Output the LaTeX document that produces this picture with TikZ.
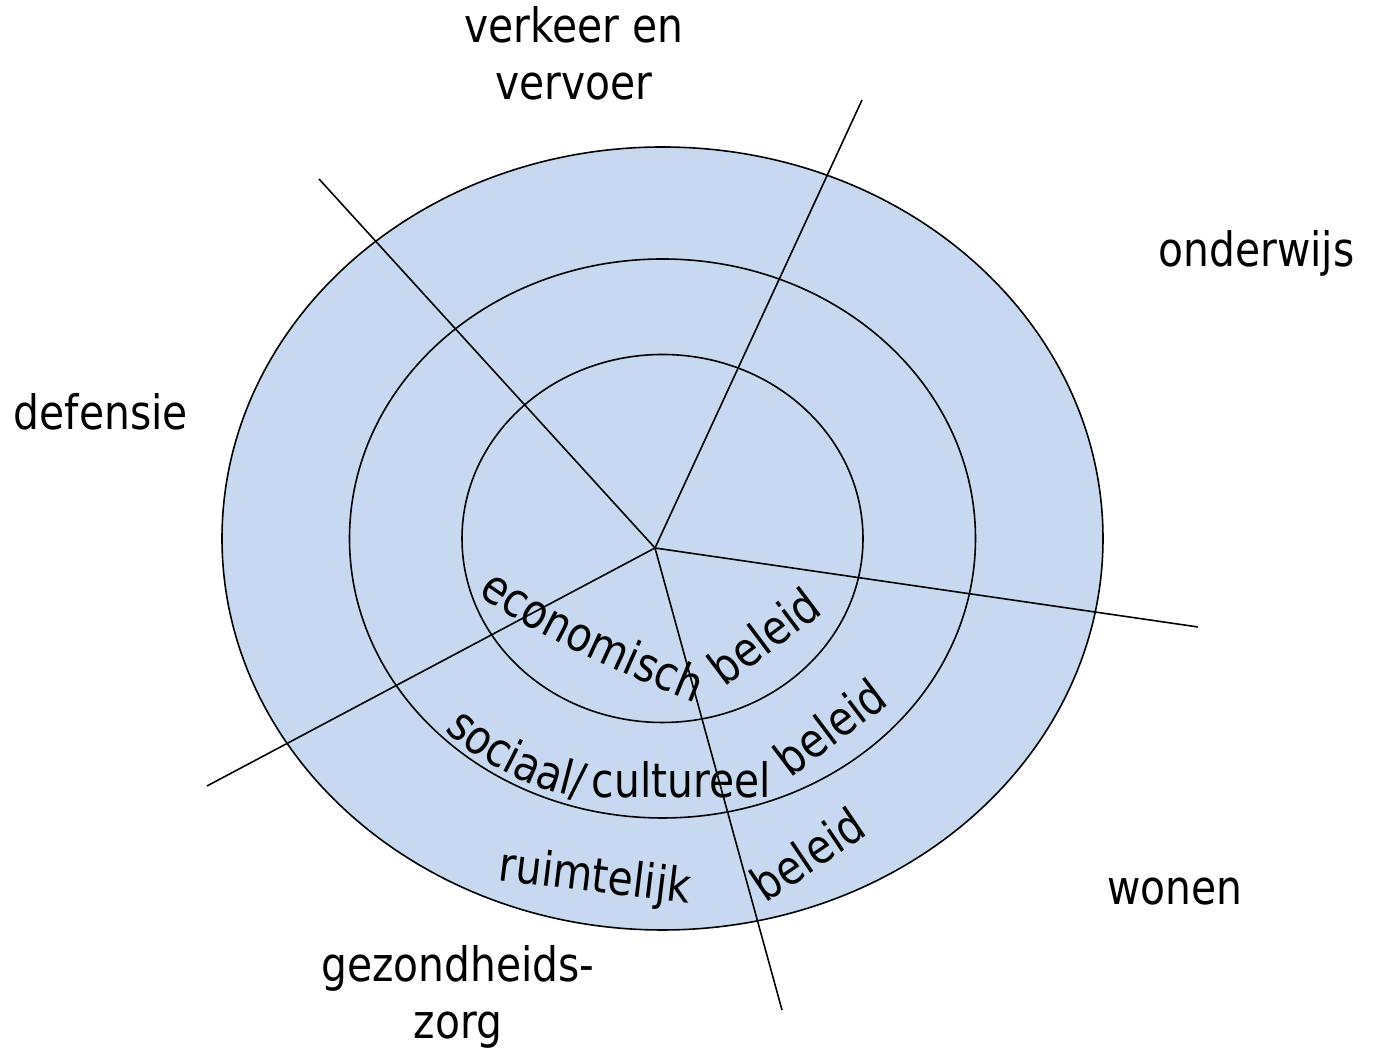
\documentclass[tikz,border=0pt]{standalone}
\usepackage{fontspec}
\setmainfont{DejaVu Sans}[FakeStretch=0.86]
\usetikzlibrary{decorations.text}
\definecolor{ringblue}{RGB}{198,217,241}
\newcommand{\ringfont}{\fontsize{27}{32.4}\selectfont}
\tikzset{lbl/.style={font=\ringfont,inner sep=0pt,align=center}}
\begin{document}
\begin{tikzpicture}[x=0.02cm,y=0.02cm,line width=0.9pt]
        \useasboundingbox(0,0)rectangle(1377,1057);
        \coordinate(c)at(662.5,518.5);
        \filldraw[fill=ringblue](c)ellipse[x radius=440.5,y radius=391.5];
        \draw(c)ellipse[x radius=313,y radius=279.5];
        \draw(c)ellipse[x radius=200.5,y radius=184];
        \coordinate(0)at(655,509);
        \coordinate(1)at(319,878);
        \coordinate(2)at(862,957);
        \coordinate(3)at(1198,430);
        \coordinate(4)at(782,47);
        \coordinate(5)at(207,271);
        \draw(0)--(1);
        \draw(0)--(2);
        \draw(0)--(3);
        \draw(0)--(4);
        \draw(0)--(5);
        \node[lbl](6)at(574,1003.5){verkeer en\\vervoer};
        \node[lbl,anchor=base](7)at(1256.5,790){onderwijs};
        \node[lbl,anchor=base](8)at(101,627){defensie};
        \node[lbl,anchor=base](9)at(1175,152){wonen};
        \node[lbl](10)at(458,60){gezondheids-\\zorg};
        \path[decorate,decoration={text along path,text={|\ringfont|economisch}}](478,463)..controls(534,421)and(637,377)..(702,351);
        \node[lbl,anchor=base west,rotate=37](11)at(724,369){beleid};
        \path[decorate,decoration={text along path,text={|\ringfont|sociaal/}}](445,327)..controls(482,292)and(532,268)..(580,259);
        \node[lbl,anchor=base west](12)at(591,259){cultureel};
        \node[lbl,anchor=base west,rotate=37](13)at(790,278){beleid};
        \node[lbl,anchor=base west,rotate=-7](14)at(497,177){ruimtelijk};
        \node[lbl,anchor=base west,rotate=34](15)at(765,153){beleid};
\end{tikzpicture}
\end{document}
